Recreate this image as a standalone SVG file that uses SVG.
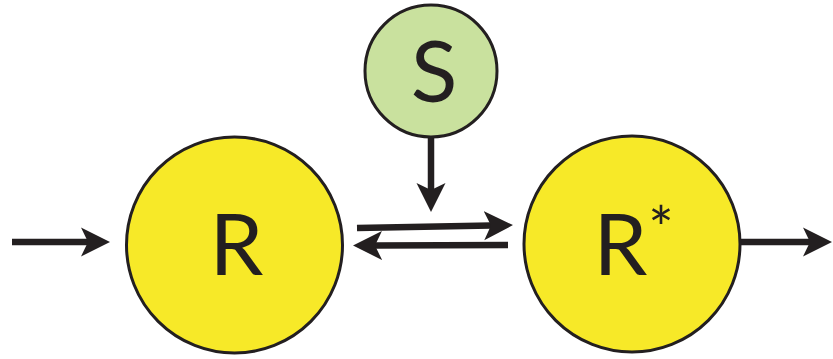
<svg xmlns="http://www.w3.org/2000/svg" width="833" height="359" viewBox="0 0 833 359">
<style>
.node circle{stroke:#231f20;stroke-width:3}
.r{fill:#f7e928}
.s{fill:#c9e19e}
text{font-family:"Lato","Open Sans",sans-serif;fill:#231f20;text-anchor:middle}
.big{font-size:86px}
.sup{font-size:60px}
.conn line{stroke:#231f20;stroke-width:6.5;fill:none;marker-end:url(#ah)}
</style>
<defs>
<marker id="ah" markerUnits="userSpaceOnUse" viewBox="0 -16 32 32" markerWidth="32" markerHeight="32" refX="7" refY="0" orient="auto">
<path d="M0,-14.5 L29,0 L0,14.5 L7,0 Z" fill="#231f20"/>
</marker>
</defs>
<g class="conn" id="connectors">
<line x1="12" y1="242" x2="88" y2="242"/>
<line x1="741" y1="242" x2="810" y2="242"/>
<line x1="431" y1="137" x2="431" y2="190"/>
<line x1="357" y1="228" x2="491" y2="225.5"/>
<line x1="508" y1="245" x2="375" y2="245.5"/>
</g>
<g class="node" id="R">
<circle class="r" cx="234.5" cy="245" r="108"/>
<text class="big" x="236.5" y="275">R</text>
</g>
<g class="node" id="Rstar">
<circle class="r" cx="632" cy="244" r="108"/>
<text class="big" x="620.5" y="275">R<tspan class="sup" x="661" y="250">*</tspan></text>
</g>
<g class="node" id="S">
<circle class="s" cx="431" cy="71" r="66"/>
<text class="big" x="434" y="102">S</text>
</g>
</svg>
